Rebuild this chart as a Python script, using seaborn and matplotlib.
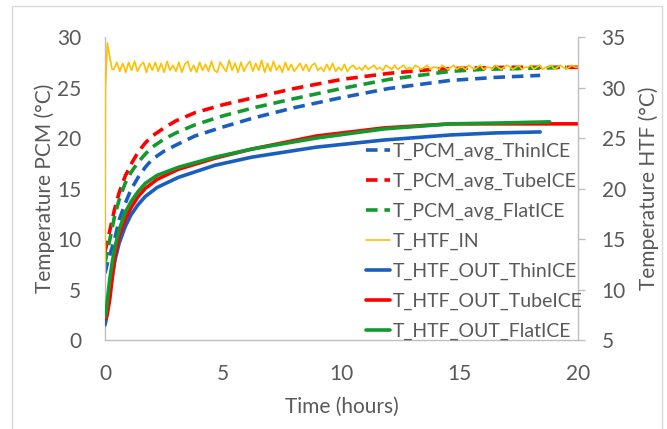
import numpy as np
import matplotlib
matplotlib.use("Agg")
import matplotlib.pyplot as plt
import matplotlib.patches as mpatches
import seaborn as sns

# ---------------- data ----------------
# PCM average temperatures (left axis, °C)
t_pcm_thin = [0, 0.1, 0.2, 0.4, 0.6, 0.85, 1.1, 1.4, 1.7, 2.0, 2.5, 3.0, 3.8, 5.0, 6.3, 8.0, 10.0, 12.0, 14.6, 16.5, 18.4]
pcm_thin = [6.6, 7.6, 8.4, 9.9, 11.9, 13.5, 14.9, 16.1, 17.1, 17.9, 18.7, 19.3, 20.2, 21.1, 22.0, 23.0, 24.0, 24.9, 25.7, 26.0, 26.2]

t_pcm_tube = [0, 0.1, 0.2, 0.4, 0.6, 0.85, 1.1, 1.4, 1.7, 2.0, 2.5, 3.0, 3.8, 5.0, 6.3, 8.0, 10.0, 12.0, 13.9, 15.0, 17.0, 20.0]
pcm_tube = [8.7, 9.8, 10.8, 12.9, 14.6, 16.2, 17.4, 18.6, 19.5, 20.2, 21.0, 21.7, 22.5, 23.3, 24.0, 24.9, 25.8, 26.4, 26.8, 26.9, 27.0, 27.0]

t_pcm_flat = [0, 0.1, 0.2, 0.4, 0.6, 0.85, 1.1, 1.4, 1.7, 2.0, 2.5, 3.0, 3.8, 5.0, 6.3, 8.0, 10.0, 12.0, 14.6, 16.0, 18.0, 19.5]
pcm_flat = [7.6, 8.8, 9.9, 12.2, 13.9, 15.5, 16.6, 17.6, 18.4, 19.1, 19.9, 20.5, 21.3, 22.2, 23.0, 23.9, 24.9, 25.8, 26.6, 26.8, 26.9, 27.0]

# HTF temperatures (right axis, °C)
t_htf_in_start = [0, 0.02, 0.1, 0.2, 0.3]
htf_in_start = [12.6, 30.0, 34.4, 33.0, 31.8]
htf_in_rest = [
    31.8, 32.5, 31.6, 32.4, 31.5, 32.5, 31.7, 32.6, 31.6, 32.2, 32.5, 31.5, 32.4, 31.7, 32.5, 31.6,
    32.4, 31.5, 32.6, 31.7, 32.2, 31.6, 32.5, 31.5, 32.3, 32.6, 31.6, 32.2, 31.5, 32.5, 31.7, 32.3,
    31.6, 32.6, 31.7, 31.5, 32.5, 32.0, 31.6, 32.7, 31.7, 32.4, 31.5, 32.5, 31.6, 32.2, 32.6, 31.6,
    32.4, 31.7, 32.7, 31.5, 32.4, 31.6, 32.6, 31.7, 32.2, 31.5, 32.5, 31.7, 32.3, 31.6, 32.0, 32.4,
    31.7, 32.3, 31.6, 32.2, 32.4, 31.7, 32.0, 31.6, 32.3, 31.7, 32.4, 31.6, 32.0, 31.7, 32.3, 31.6,
    32.0, 32.2, 31.8, 32.0, 31.7, 32.2, 31.8, 32.0, 32.2, 31.8, 32.0, 31.7, 32.2, 32.0, 31.8, 32.2,
    31.8, 32.0, 32.2, 31.8, 32.0, 31.8, 32.2, 32.0, 31.8, 32.0, 32.2, 31.8, 32.0, 32.0, 31.8, 32.2,
    32.0, 31.8, 32.0, 32.2, 31.8, 32.0, 32.0, 31.8, 32.2, 32.0, 31.8, 32.0, 32.2, 31.8, 32.0, 32.0,
    31.8, 32.2, 32.0, 31.8, 32.0, 32.2, 32.0, 31.8, 32.0, 32.2, 31.8, 32.0, 32.0, 32.2, 31.8, 32.0,
    32.2, 31.8, 32.0, 32.0, 32.2, 31.8, 32.0, 32.2, 32.0, 31.8, 32.0, 32.2, 32.0, 32.0,
]
t_htf_in_step = 0.125
t_htf_in_first = 0.375

t_out_thin = [0, 0.05, 0.1, 0.2, 0.3, 0.42, 0.6, 0.85, 1.1, 1.4, 1.7, 2.2, 3.1, 4.65, 6.2, 8.95, 11.8, 14.6, 16.5, 18.4]
out_thin = [6.5, 7.0, 8.0, 9.8, 11.3, 12.9, 14.6, 16.2, 17.4, 18.4, 19.2, 20.1, 21.1, 22.3, 23.1, 24.1, 24.8, 25.3, 25.5, 25.6]

t_out_tube = [0, 0.05, 0.1, 0.2, 0.3, 0.42, 0.6, 0.85, 1.1, 1.4, 1.7, 2.2, 3.1, 4.65, 6.2, 8.95, 11.8, 14.6, 17.0, 20.0]
out_tube = [7.1, 7.2, 7.6, 9.0, 11.0, 13.2, 15.3, 16.9, 18.1, 19.2, 20.0, 20.9, 21.9, 23.0, 23.9, 25.2, 26.0, 26.4, 26.4, 26.4]

t_out_flat = [0, 0.05, 0.1, 0.2, 0.3, 0.42, 0.6, 0.85, 1.1, 1.4, 1.7, 2.2, 3.1, 4.65, 6.2, 8.95, 11.8, 14.6, 17.0, 18.8]
out_flat = [7.3, 7.8, 9.0, 11.0, 12.6, 14.2, 15.9, 17.6, 18.7, 19.7, 20.5, 21.3, 22.1, 23.1, 23.9, 25.0, 25.9, 26.4, 26.5, 26.6]

labels = ["T_PCM_avg_ThinICE", "T_PCM_avg_TubeICE", "T_PCM_avg_FlatICE", "T_HTF_IN",
          "T_HTF_OUT_ThinICE", "T_HTF_OUT_TubeICE", "T_HTF_OUT_FlatICE"]
x_ticks = [0, 5, 10, 15, 20]
y_left_ticks = [0, 5, 10, 15, 20, 25, 30]
y_right_ticks = [5, 10, 15, 20, 25, 30, 35]

# ---------------- styling ----------------
BLUE = "#1A5FC0"
RED = "#FF0000"
GREEN = "#129A2E"
YELLOW = "#FFC000"
TXT = "#595959"
AXC = "#BFBFBF"

sns.set_theme(style="white")
plt.rcParams["font.family"] = ["Lato", "DejaVu Sans"]

W, H = 667, 429
fig = plt.figure(figsize=(W / 100, H / 100), dpi=100)
L, R, T, B = 105, 578, 37, 340
ax = fig.add_axes([L / W, 1 - B / H, (R - L) / W, (B - T) / H])
ax2 = ax.twinx()

# frame around the chart area
fig.patches.append(mpatches.Rectangle((12 / W, -0.2), (662 - 12) / W, 1.2 - 6 / H,
                                      transform=fig.transFigure, fill=False,
                                      edgecolor="#D9D9D9", lw=1.0, zorder=0))

lw = 2.6
dash = (3.2, 1.9)
t_in = [t_htf_in_first + t_htf_in_step * k for k in range(len(htf_in_rest))]

sns.lineplot(x=t_pcm_thin, y=pcm_thin, ax=ax, color=BLUE, lw=lw, sort=False, label=labels[0])
sns.lineplot(x=t_pcm_tube, y=pcm_tube, ax=ax, color=RED, lw=lw, sort=False, label=labels[1])
sns.lineplot(x=t_pcm_flat, y=pcm_flat, ax=ax, color=GREEN, lw=lw, sort=False, label=labels[2])
for ln in ax.get_lines():
    ln.set_dashes(dash)

sns.lineplot(x=t_htf_in_start + t_in, y=htf_in_start + htf_in_rest, ax=ax2, color=YELLOW, lw=1.2,
             sort=False, label=labels[3])
sns.lineplot(x=t_out_thin, y=out_thin, ax=ax2, color=BLUE, lw=lw, sort=False, label=labels[4])
sns.lineplot(x=t_out_tube, y=out_tube, ax=ax2, color=RED, lw=lw, sort=False, label=labels[5])
sns.lineplot(x=t_out_flat, y=out_flat, ax=ax2, color=GREEN, lw=lw, sort=False, label=labels[6])

ax.set_xlim(0, 20)
ax.set_ylim(0, 30)
ax2.set_ylim(5, 35)
ax.set_xticks(x_ticks)
ax.set_yticks(y_left_ticks)
ax2.set_yticks(y_right_ticks)

for a in (ax, ax2):
    for s in a.spines.values():
        s.set_visible(False)
ax.spines["left"].set_visible(True)
ax.spines["bottom"].set_visible(True)
ax.spines["left"].set_color(AXC)
ax.spines["bottom"].set_color(AXC)
ax2.spines["right"].set_visible(True)
ax2.spines["right"].set_color(AXC)
for s in ("left", "bottom"):
    ax.spines[s].set_linewidth(1.0)
ax2.spines["right"].set_linewidth(1.0)

ax.tick_params(axis="y", length=0, pad=17, labelsize=15, labelcolor=TXT)
ax.tick_params(axis="x", length=0, pad=17, labelsize=15, labelcolor=TXT)
ax2.tick_params(axis="y", length=5, width=1.0, color=AXC, direction="out", pad=12,
                labelsize=15, labelcolor=TXT)
ax.grid(False)
ax2.grid(False)

ax.set_xlabel("Time (hours)", fontsize=15, color=TXT)
ax.set_ylabel("Temperature PCM (°C)", fontsize=15, color=TXT)
ax2.set_ylabel("Temperature HTF (°C)", fontsize=15, color=TXT)
ax.yaxis.set_label_coords(-0.106, 0.5)
ax2.yaxis.set_label_coords(1.128, 0.5)
ax.xaxis.set_label_coords(0.5, -0.187)

h1, l1 = ax.get_legend_handles_labels()
h2, l2 = ax2.get_legend_handles_labels()
if ax.get_legend():
    ax.get_legend().remove()
if ax2.get_legend():
    ax2.get_legend().remove()
leg = ax2.legend(h1 + h2, l1 + l2, loc="upper left", bbox_to_anchor=(366 / W, 1 - 143 / H),
                 bbox_transform=fig.transFigure, frameon=False, fontsize=14,
                 handlelength=1.25, handletextpad=0.15, labelspacing=0.65,
                 borderpad=0, borderaxespad=0)
for txt in leg.get_texts():
    txt.set_color(TXT)

fig.savefig("out.png", dpi=100)
